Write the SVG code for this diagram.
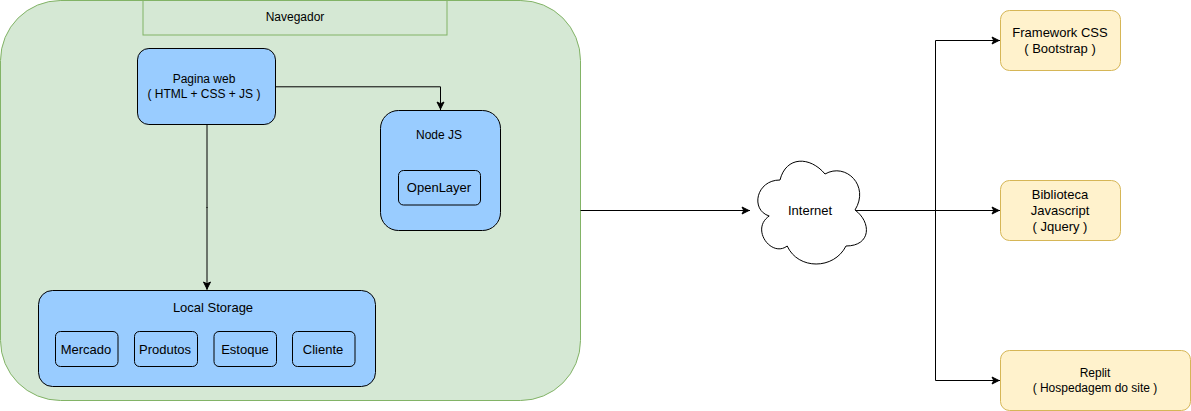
<svg xmlns="http://www.w3.org/2000/svg" width="1191" height="411" viewBox="0 0 1191 411">
<style>
text{font-family:"Liberation Sans",Arial,sans-serif;font-size:12px;fill:#000;text-anchor:middle}
.t13{font-size:13px}
.blue{fill:#99ccff;stroke:#000;stroke-width:1}
.yellow{fill:#fff2cc;stroke:#d6b656;stroke-width:1}
.conn{fill:none;stroke:#000;stroke-width:1}
</style>
<defs>
<marker id="arrow" markerUnits="userSpaceOnUse" markerWidth="9" markerHeight="8" refX="9" refY="3.500" orient="auto" viewBox="0 0 9 7" overflow="visible">
<path d="M1 0L8 3.500L1 7L2.750 3.500Z" fill="#000" stroke="#000" stroke-width="1"/>
</marker>
</defs>
<g id="navegador-area">
<rect x="0.500" y="0.500" width="580" height="400" rx="60" ry="60" fill="#d5e8d4" stroke="#82b366"/>
<rect x="143" y="-30" width="304" height="65" fill="#d5e8d4" stroke="#82b366"/>
<path d="M60.500 0.500H520.500" fill="none" stroke="#82b366"/>
<text x="295" y="21">Navegador</text>
</g>
<g id="connectors">
<path class="conn" d="M207 124.500V208"/>
<path class="conn" marker-end="url(#arrow)" d="M207 207V290"/>
<path class="conn" marker-end="url(#arrow)" d="M275.500 86.800H440.500V110"/>
<path class="conn" marker-end="url(#arrow)" d="M580.500 210.500H750"/>
<path class="conn" marker-end="url(#arrow)" d="M855 210.500H1000"/>
<path class="conn" marker-end="url(#arrow)" d="M935.500 210.500V40.500H1000"/>
<path class="conn" marker-end="url(#arrow)" d="M935.500 210.500V380.500H1000"/>
</g>
<g id="pagina-web">
<rect class="blue" x="137.500" y="48.500" width="138" height="76" rx="11.400"/>
<text x="204" y="83">Pagina web</text>
<text x="204" y="98">( HTML + CSS + JS )</text>
</g>
<g id="node-js">
<rect class="blue" x="380.500" y="110.500" width="120" height="120" rx="18"/>
<text x="439" y="139">Node JS</text>
</g>
<g id="openlayer">
<rect class="blue" x="398.500" y="170.500" width="82" height="34.500" rx="5"/>
<text class="t13" x="439" y="192">OpenLayer</text>
</g>
<g id="local-storage">
<rect class="blue" x="38.500" y="290.500" width="337" height="96" rx="14"/>
<text class="t13" x="213" y="312">Local Storage</text>
</g>
<g id="mercado">
<rect class="blue" x="55.500" y="331.500" width="62.500" height="35" rx="5"/>
<text class="t13" x="86" y="354">Mercado</text>
</g>
<g id="produtos">
<rect class="blue" x="134.500" y="331.500" width="63" height="35" rx="5"/>
<text class="t13" x="165" y="354">Produtos</text>
</g>
<g id="estoque">
<rect class="blue" x="214" y="331.500" width="62.500" height="35" rx="5"/>
<text class="t13" x="245" y="354">Estoque</text>
</g>
<g id="cliente">
<rect class="blue" x="292.500" y="331.500" width="62.500" height="35" rx="5"/>
<text class="t13" x="323" y="354">Cliente</text>
</g>
<g id="internet">
<path d="M780 180C756 180 750 210 769.200 216C750 229.200 771.600 258 787.200 246C798 270 834 270 846 246C871.500 246 871.500 222 855 210C870 186 846 162 825 174C810 156 786 156 780 180Z" fill="#fff" stroke="#000"/>
<text class="t13" x="810" y="215">Internet</text>
</g>
<g id="framework-css">
<rect class="yellow" x="1000.500" y="10.500" width="120" height="60" rx="9"/>
<text class="t13" x="1060" y="37">Framework CSS</text>
<text class="t13" x="1060" y="53">( Bootstrap )</text>
</g>
<g id="biblioteca">
<rect class="yellow" x="1000.500" y="180.500" width="120" height="60" rx="9"/>
<text class="t13" x="1060" y="199">Biblioteca</text>
<text class="t13" x="1060" y="215">Javascript</text>
<text class="t13" x="1060" y="231">( Jquery )</text>
</g>
<g id="replit">
<rect class="yellow" x="1000.500" y="350.500" width="190" height="60" rx="9"/>
<text x="1095" y="377">Replit</text>
<text x="1095" y="392">( Hospedagem do site )</text>
</g>
</svg>
